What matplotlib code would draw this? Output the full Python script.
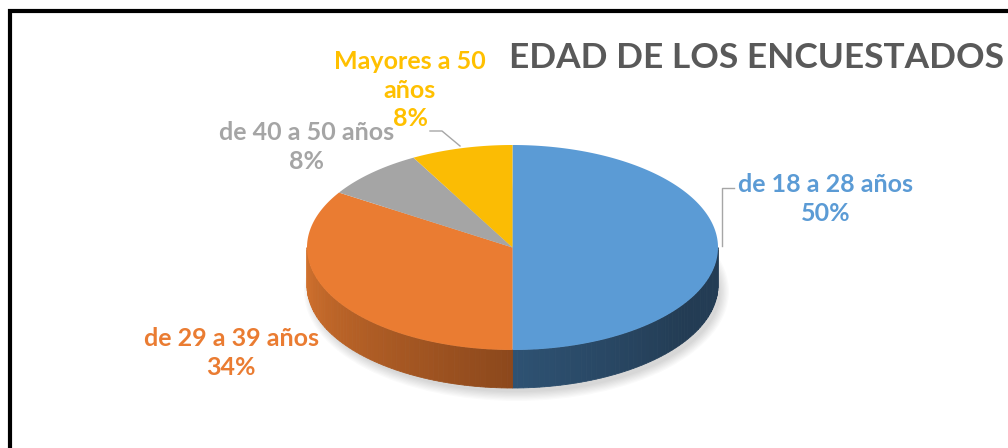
import numpy as np
import matplotlib
matplotlib.use("Agg")
import matplotlib.pyplot as plt
from matplotlib.patches import Ellipse
from matplotlib.colors import to_rgb

plt.rcParams['font.family'] = ['Lato', 'DejaVu Sans']

# data
categories = ["de 18 a 28 años", "de 29 a 39 años", "de 40 a 50 años", "Mayores a 50 años"]
label_text = ["de 18 a 28 años", "de 29 a 39 años", "de 40 a 50 años", "Mayores a 50\naños"]
values = [50, 34, 8, 8]
top_colors = ["#5B9BD5", "#EA7C32", "#A5A5A5", "#FBBC04"]
wall_from = ["#2E5273", "#D4732E", "#6E6E6E", "#A87E02"]
wall_to = ["#233C54", "#8C481C", "#555555", "#8A6702"]
title = "EDAD DE LOS ENCUESTADOS"

# pie geometry in pixels
cx, cy, rx, ry, depth = 512.5, 247.5, 205.5, 102.5, 38

fig = plt.figure(figsize=(10.08, 4.48), dpi=100)
ax = fig.add_axes([0, 0, 1, 1])
ax.set_xlim(0, 1008)
ax.set_ylim(448, 0)
ax.axis('off')


def ell(t, dy=0):
    return cx + rx * np.cos(t), cy - ry * np.sin(t) + dy


# soft shadow
for k in range(8):
    ax.add_patch(Ellipse((cx + 4, cy + depth + 6), 2 * rx + 14 - k * 2.5, 2 * ry + 14 - k * 2.5,
                         facecolor='black', edgecolor='none', alpha=0.018, zorder=1))

total = sum(values)
start = 90.0
angles = []
for v in values:
    a0 = start
    a1 = start - 360.0 * v / total
    angles.append((a0, a1))
    start = a1

# side walls (visible lower half only)
for i, (a0, a1) in enumerate(angles):
    lo, hi = np.radians(a1), np.radians(a0)
    for shift in (0, -2 * np.pi, 2 * np.pi):
        l, h = lo + shift, hi + shift
        l2, h2 = max(l, -np.pi), min(h, 0)
        if h2 <= l2:
            continue
        n = 60
        edges = np.linspace(l2, h2, n + 1)
        c0, c1 = np.array(to_rgb(wall_from[i])), np.array(to_rgb(wall_to[i]))
        for j in range(n):
            t = np.linspace(edges[j], edges[j + 1], 4)
            xs, ys = ell(t)
            xb, yb = ell(t[::-1], depth)
            mid = (edges[j] + edges[j + 1]) / 2
            f = abs(mid + np.pi / 2) / (np.pi / 2)
            if i == 1:
                f = 1 - f
            f = min(1.0, f * (1.6 if i == 0 else 1.0))
            col = c0 + (c1 - c0) * f
            ax.fill(np.r_[xs, xb], np.r_[ys, yb], color=col, lw=0.6, ec=col, zorder=2)

# top faces
for i, (a0, a1) in enumerate(angles):
    t = np.radians(np.linspace(a0, a1, 200))
    xs, ys = ell(t)
    ax.fill(np.r_[cx, xs], np.r_[cy, ys], color=top_colors[i], lw=0, zorder=3)

# light rim on the front edge of the orange slice
t = np.radians(np.linspace(angles[1][0], -90, 200))
t = t[t < np.radians(180)]
xs, ys = ell(t, 1)
ax.plot(xs, ys, color="#F59A55", lw=1.5, zorder=4, solid_capstyle='butt')

# title, sized so it fits the space right of the labels
tt = ax.text(509, 58, title, fontsize=30, fontweight='bold', color="#595959",
             family=['Liberation Sans Narrow', 'Lato'], ha='left', va='center', zorder=5)
fig.canvas.draw()
w = tt.get_window_extent().width
tt.set_fontsize(30 * 494 / w)

# data labels
lab_pos = [(826, 199), (231, 353), (307, 147), (410, 90)]
for i in range(len(values)):
    txt = f"{label_text[i]}\n{values[i]}%"
    ax.text(lab_pos[i][0], lab_pos[i][1], txt, fontsize=18, fontweight='bold',
            color=top_colors[i] if i != 3 else "#FFC000", ha='center', va='center',
            linespacing=1.3, zorder=5)

# leader lines
ax.plot([734, 722, 722], [188, 188, 246], color="#A6A6A6", lw=1, zorder=4)
ax.plot([430, 442, 460], [131, 131, 146], color="#A6A6A6", lw=1, zorder=4)

# chart frame
ax.plot([9.5, 9.5, 1010], [460, 11.5, 11.5], color='black', lw=3, zorder=6,
        solid_joinstyle='miter')

fig.savefig("out.png", dpi=100)
